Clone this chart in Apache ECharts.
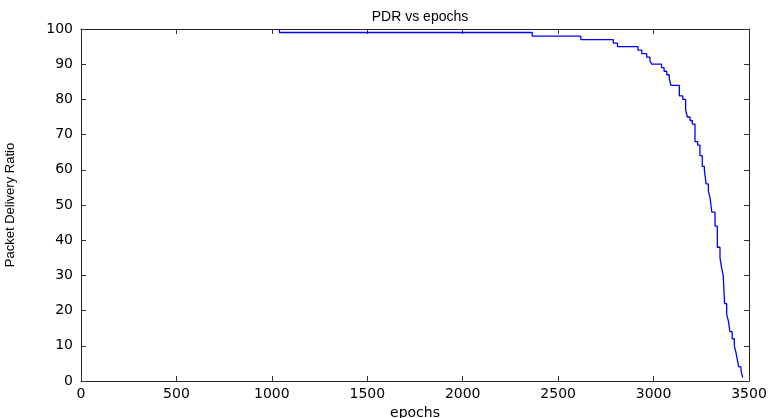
<!DOCTYPE html>
<html>
<head>
<meta charset="utf-8">
<script src="https://cdn.jsdelivr.net/npm/echarts@6/dist/echarts.min.js"></script>
<style>html,body{margin:0;padding:0;background:#fff}#c{width:770px;height:418px}</style>
</head>
<body>
<div id="c"></div>
<script>
// Step data: epochs where PDR changes, and the new PDR value
const epochs = [1039, 1040, 2364, 2619, 2789, 2811, 2918, 2938, 2964, 2981, 2990, 3042, 3055, 3069, 3082, 3091, 3135, 3153, 3168, 3177, 3191, 3203, 3217, 3231, 3243, 3255, 3266, 3275, 3287, 3296, 3305, 3322, 3334, 3348, 3357, 3365, 3372, 3383, 3392, 3400, 3412, 3423, 3432, 3439, 3446, 3458, 3467];
const pdr    = [100, 99, 98, 97, 96, 95, 94, 93, 92, 91, 90, 89, 88, 87, 86, 84, 81, 80, 77, 75, 74, 73, 68, 67, 64, 61, 60, 56, 54, 52, 48, 44, 38, 35, 32, 30, 22, 19, 17, 14, 12, 10, 8, 6, 4, 3, 1];
const xTicks = [0, 500, 1000, 1500, 2000, 2500, 3000, 3500];
const yTicks = [0, 10, 20, 30, 40, 50, 60, 70, 80, 90, 100];

const chart = echarts.init(document.getElementById('c'), null, {renderer: 'canvas'});
const font = 'DejaVu Sans';
const axisLine = {show: true, onZero: false, lineStyle: {color: '#222', width: 1}};
const tick = {show: true, inside: true, length: 5, lineStyle: {color: '#333', width: 1}};
chart.setOption({
  animation: false,
  backgroundColor: '#fff',
  title: {
    text: 'PDR vs epochs', left: 415, top: 5, textAlign: 'center',
    textStyle: {fontFamily: 'Liberation Sans', fontSize: 14, fontWeight: 'normal', color: '#000'}
  },
  grid: {left: 81, right: 21, top: 29, bottom: 37, outerBoundsMode: 'none', containLabel: false},
  xAxis: [{
    type: 'value', min: xTicks[0], max: xTicks[xTicks.length - 1], interval: 500,
    position: 'bottom', axisLine, axisTick: tick, splitLine: {show: false},
    axisLabel: {fontFamily: font, fontSize: 14, color: '#000', margin: 6, formatter: v => String(v)},
    name: 'epochs', nameLocation: 'middle', nameGap: 21,
    nameTextStyle: {fontFamily: font, fontSize: 14, color: '#000'}
  }, {
    type: 'value', min: xTicks[0], max: xTicks[xTicks.length - 1], interval: 500,
    position: 'top', axisLine, axisTick: tick, axisLabel: {show: false}, splitLine: {show: false}
  }],
  yAxis: [{
    type: 'value', min: yTicks[0], max: yTicks[yTicks.length - 1], interval: 10,
    position: 'left', axisLine, axisTick: tick, splitLine: {show: false},
    axisLabel: {fontFamily: font, fontSize: 14, color: '#000', margin: 8, formatter: v => String(v)},
    name: 'Packet Delivery Ratio', nameLocation: 'middle', nameGap: 64, nameRotate: 90,
    nameTextStyle: {fontFamily: 'Liberation Sans', fontSize: 13, color: '#000'}
  }, {
    type: 'value', min: yTicks[0], max: yTicks[yTicks.length - 1], interval: 10,
    position: 'right', axisLine, axisTick: tick, axisLabel: {show: false}, splitLine: {show: false}
  }],
  series: [{
    type: 'line', step: 'end', showSymbol: false, symbol: 'none',
    xAxisIndex: 0, yAxisIndex: 0,
    data: epochs.map((e, i) => [e, pdr[i]]),
    lineStyle: {color: '#0000ff', width: 1.3}
  }]
});
</script>
</body>
</html>
